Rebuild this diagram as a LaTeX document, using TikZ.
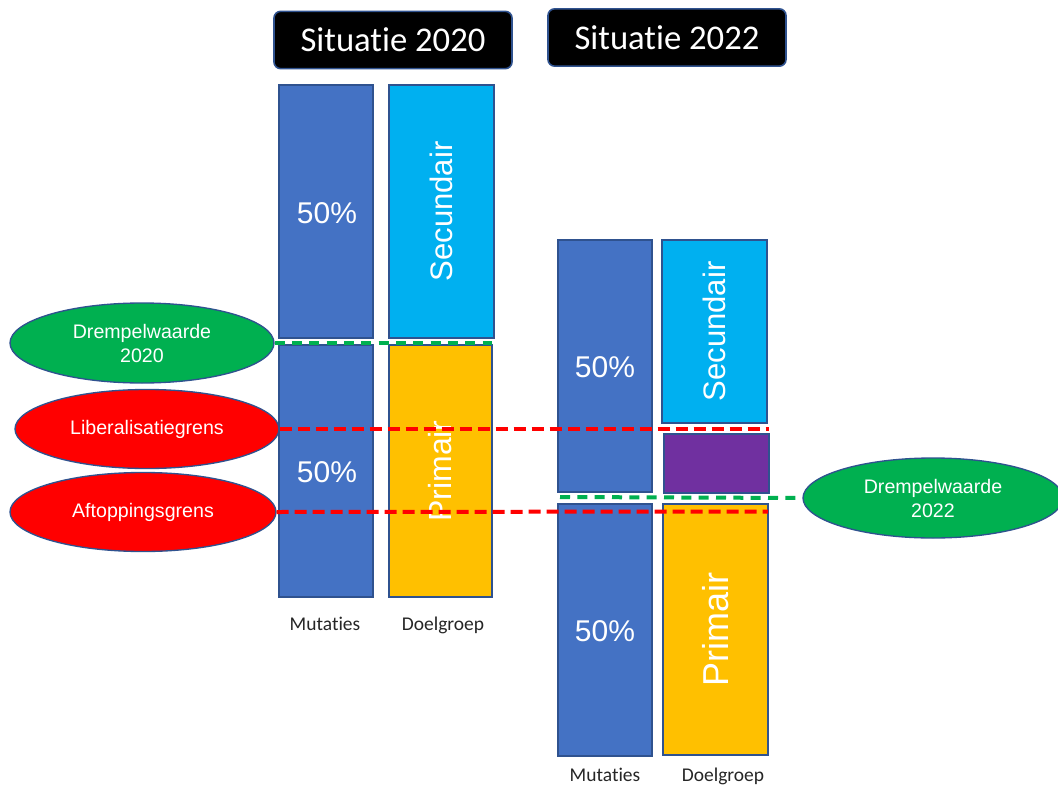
\documentclass[tikz,border=0pt]{standalone}
\usepackage{fontspec}
\setmainfont{Liberation Sans}
\newfontfamily\calfont[RawFeature={-liga;-clig;-dlig}]{Carlito}
\usetikzlibrary{shapes.geometric}
\definecolor{mblue}{HTML}{4472C4}
\definecolor{edgeblue}{HTML}{2F528F}
\definecolor{secblue}{HTML}{00B0F0}
\definecolor{primyel}{HTML}{FFC000}
\definecolor{purp}{HTML}{7030A0}
\definecolor{grn}{HTML}{00B050}
\definecolor{rd}{HTML}{FF0000}
\definecolor{lbl}{HTML}{262626}
\begin{document}
\begin{tikzpicture}[x=0.75pt,y=-0.75pt,
  bar/.style n args={2}{draw=edgeblue,line width=1pt,minimum width=#1*0.75pt,minimum height=#2*0.75pt,inner sep=0pt,text=white},
  pct/.style={text=white,font=\fontsize{22.5}{27}\selectfont},
  vtext/.style={rotate=90,text=white,inner sep=0pt},
  oval/.style n args={2}{ellipse,draw=edgeblue,line width=1pt,minimum width=#1*0.75pt,minimum height=#2*0.75pt,inner sep=0pt,text=white,align=center,font=\fontsize{14.7}{18}\selectfont},
  titlebox/.style={fill=black,draw=edgeblue,line width=1.2pt,rounded corners=5pt,minimum width=178.5pt,minimum height=43pt,inner sep=0pt,text=white,font=\calfont\fontsize{26}{31}\selectfont},
  redline/.style={draw=rd,line width=3pt,dash pattern=on 9pt off 4.5pt},
  greenline/.style={draw=grn,line width=3pt,dash pattern=on 7.5pt off 5.5pt},
  axlabel/.style={text=lbl,anchor=base,inner sep=0pt,font=\calfont\fontsize{14.6}{17}\selectfont}
]
\fill[white] (0,0) rectangle (1058,789);
\useasboundingbox (0,0) rectangle (1058,789);

% titles
\node[titlebox] (t20) at (393,40) {Situatie 2020};
\node[titlebox] (t22) at (667,37.5) {Situatie 2022};

% 2020 bars
\node[bar={94}{253},fill=mblue] (m20t) at (326,211.5) {};
\node[bar={94}{252},fill=mblue] (m20b) at (326,471) {};
\node[bar={105}{253},fill=secblue] (s20) at (441.5,211.5) {};
\node[bar={103}{252},fill=primyel] (p20) at (440.5,471) {};
\node[pct] (m20tt) at (327,213) {50\%};
\node[pct] (m20bt) at (327,472) {50\%};
\node[vtext,font=\fontsize{23.3}{28}\selectfont] (s20t) at (s20.center) {Secundair};
\node[vtext,font=\fontsize{24}{29}\selectfont] (p20t) at (p20.center) {Primair};

% 2022 bars
\node[bar={94}{252},fill=mblue] (m22t) at (605,366) {};
\node[bar={94}{252},fill=mblue] (m22b) at (605,630) {};
\node[bar={105}{183},fill=secblue] (s22) at (714.5,331.5) {};
\node[bar={105}{59},fill=purp] (pu22) at (716.5,463.5) {};
\node[bar={105}{251},fill=primyel] (p22) at (715.5,629.5) {};
\node[pct] (m22tt) at (605,367) {50\%};
\node[pct] (m22bt) at (605,631) {50\%};
\node[vtext,font=\fontsize{23.3}{28}\selectfont] (s22t) at (s22.center) {Secundair};
\node[vtext,font=\fontsize{27}{32}\selectfont] (p22t) at (p22.center) {Primair};

% axis labels
\node[axlabel] (l20m) at (325,630) {Mutaties};
\node[axlabel] (l20d) at (443,630) {Doelgroep};
\node[axlabel] (l22m) at (605,781) {Mutaties};
\node[axlabel] (l22d) at (723,781) {Doelgroep};

% ellipses
\node[oval={264}{80},fill=grn] (d20) at (142,343) {Drempelwaarde\\2020};
\node[oval={264}{79},fill=rd] (lib) at (147,429) {Liberalisatiegrens};
\node[oval={266}{79},fill=rd] (aft) at (143,512) {Aftoppingsgrens};
\node[oval={260}{80},fill=grn] (d22) at (933,498) {Drempelwaarde\\2022};

% line end points
\coordinate (g20e) at (492,343);
\coordinate (libe) at (769,429);
\coordinate (afte) at (768,511.5);
\coordinate (g22s) at (560,497);

% dashed lines
\draw[greenline] (d20.east) -- (g20e);
\draw[redline] (lib.east) -- (libe);
\draw[redline] (aft.east) -- (afte);
\draw[greenline] (g22s) -- (d22.west);
\end{tikzpicture}
\end{document}
